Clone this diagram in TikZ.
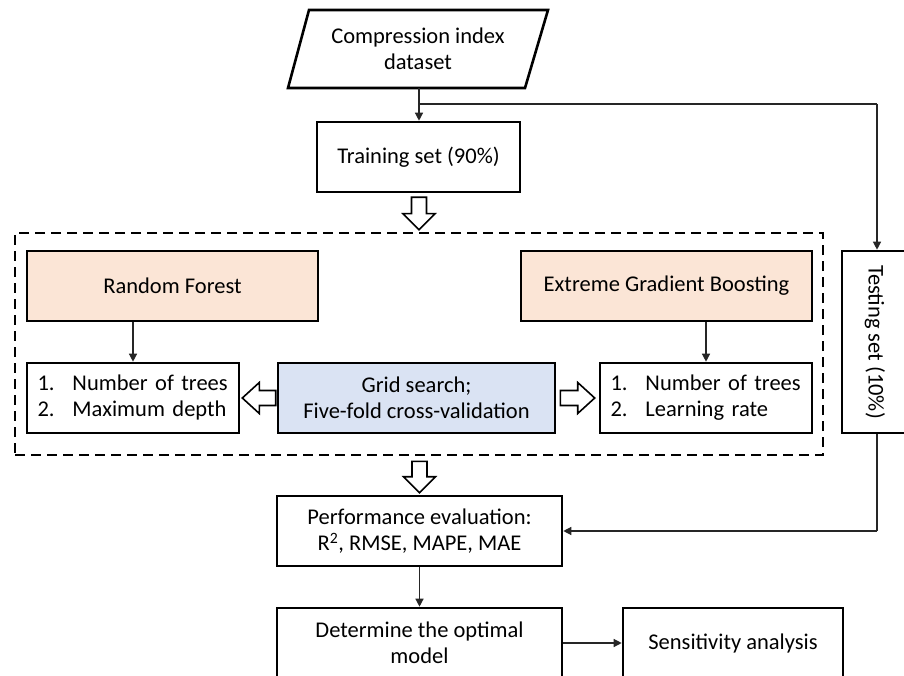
\documentclass[tikz,border=0pt]{standalone}
\usepackage{fontspec}
\setmainfont{Carlito}
\usetikzlibrary{calc,arrows.meta}
\definecolor{peach}{HTML}{FBE5D6}
\definecolor{paleblue}{HTML}{DAE3F3}
\newcommand{\hollowdown}[2]{%
  \draw[hollow] let \p1=(#1), \p2=(#2) in
    (\x2-7.5pt,\y1) -- (\x2-7.5pt,\y2+16pt) -- (\x2-16pt,\y2+16pt) -- (\x2,\y2)
    -- (\x2+16pt,\y2+16pt) -- (\x2+7.5pt,\y2+16pt) -- (\x2+7.5pt,\y1) -- cycle;}
\newcommand{\hollowleft}[2]{%
  \draw[hollow] let \p1=(#1), \p2=(#2) in
    (\x1,\y2+7.5pt) -- (\x2+17pt,\y2+7.5pt) -- (\x2+17pt,\y2+15.5pt) -- (\x2,\y2)
    -- (\x2+17pt,\y2-15.5pt) -- (\x2+17pt,\y2-7.5pt) -- (\x1,\y2-7.5pt) -- cycle;}
\newcommand{\hollowright}[2]{%
  \draw[hollow] let \p1=(#1), \p2=(#2) in
    (\x1,\y2+7.5pt) -- (\x2-17pt,\y2+7.5pt) -- (\x2-17pt,\y2+15.5pt) -- (\x2,\y2)
    -- (\x2-17pt,\y2-15.5pt) -- (\x2-17pt,\y2-7.5pt) -- (\x1,\y2-7.5pt) -- cycle;}
\newcommand{\listlines}[2]{\begin{tabular}{@{}l@{}}\makebox[35pt][l]{1.}#1\\\makebox[35pt][l]{2.}#2\end{tabular}}
\begin{document}
\begin{tikzpicture}[x=1pt,y=-1pt,
  font=\fontsize{22.5pt}{26.5pt}\selectfont,
  box/.style={draw=black, line width=2.6pt, rectangle, inner sep=0pt, align=center},
  conn/.style={draw=black!85, line width=1.3pt, -{Triangle[length=8pt,width=8pt]}},
  plainline/.style={draw=black!85, line width=1.3pt},
  hollow/.style={draw=black, line width=1.6pt, fill=white},
  group/.style={draw=black, line width=2.6pt, dash pattern=on 10pt off 6pt, rectangle, inner sep=0pt}]
\useasboundingbox (0,0) rectangle (904,676);
\clip (0,0) rectangle (904,676);
\fill[white] (0,0) rectangle (904,676);

% input dataset (parallelogram)
\draw[line width=2.6pt, line join=miter] (309,10) -- (548,10) -- (525,88) -- (288,88) -- cycle;
\node[align=center] (data) at (418,49) {Compression index\\dataset};
\coordinate (dataB) at (419,88);
\coordinate (split) at (419,104);

\node[box, minimum width=203, minimum height=70] (train) at (418.5,157) {Training set (90\%)};

\node[group, minimum width=808, minimum height=222] (grp) at (419,344) {};

\node[box, fill=peach, minimum width=291, minimum height=70] (rf) at (172.5,286) {Random Forest};
\node[box, fill=peach, minimum width=291, minimum height=70] (egb) at (666.5,286) {Extreme Gradient Boosting};

\node[box, minimum width=212, minimum height=70, text width=191, align=left] (rflist) at (133,398)
  {\listlines{Number of trees}{Maximum depth}};
\node[box, fill=paleblue, minimum width=277, minimum height=70] (grid) at (416.5,398)
  {Grid search;\\Five-fold cross-validation};
\node[box, minimum width=212, minimum height=70, text width=191, align=left] (egblist) at (706,398)
  {\listlines{Number of trees}{Learning rate}};

\node[box, minimum width=70, minimum height=182] (test) at (877,342) {};
\node[rotate=-90] (testtxt) at (875,342) {Testing set (10\%)};

\node[box, minimum width=285, minimum height=70] (perf) at (419.5,531)
  {Performance evaluation:\\R\textsuperscript{2}, RMSE, MAPE, MAE};
\node[box, minimum width=285, minimum height=70] (det) at (419.5,643)
  {Determine the optimal\\model};
\node[box, minimum width=220, minimum height=70] (sens) at (733,643) {Sensitivity analysis};

% connectors
\draw[conn] (dataB) -- (train.north -| dataB);
\draw[plainline] (split) -- (split -| test.north);
\draw[conn] (split -| test.north) -- (test.north);
\draw[conn] (rflist.north |- rf.south) -- (rflist.north);
\draw[conn] (egblist.north |- egb.south) -- (egblist.north);
\draw[plainline] (test.south) -- (test.south |- perf.east);
\draw[conn] (test.south |- perf.east) -- (perf.east);
\draw[conn] (perf.south) -- (det.north);
\draw[conn] (det.east) -- (sens.west);

% hollow arrows
\hollowdown{$(train.south)+(0,4)$}{$(grp.north)+(0,-2)$}
\hollowdown{$(perf.north |- grp.south)+(0,5)$}{$(perf.north)+(0,-2)$}
\hollowleft{$(grid.west)+(-1,0)$}{$(rflist.east)+(2,0)$}
\hollowright{$(grid.east)+(4,0)$}{$(egblist.west)+(-4,0)$}
\end{tikzpicture}
\end{document}
